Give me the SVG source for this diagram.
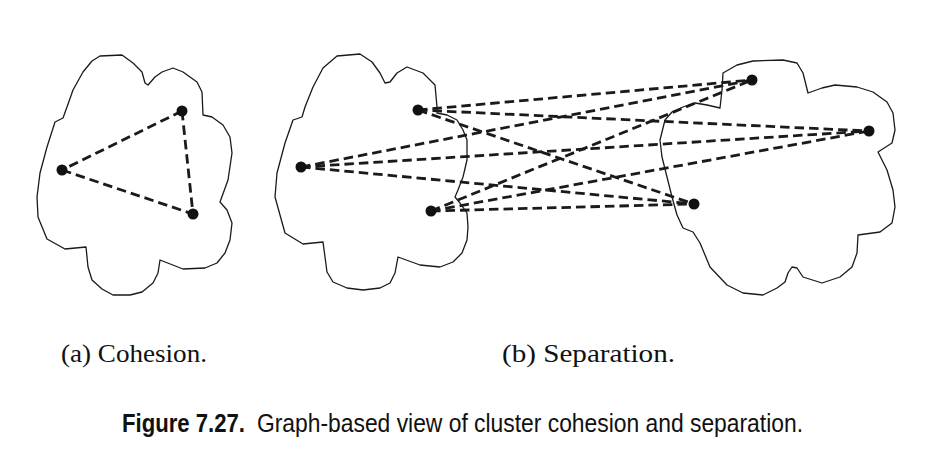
<svg xmlns="http://www.w3.org/2000/svg" width="931" height="468" viewBox="0 0 931 468">
<style>
.blob{fill:none;stroke:#1a1a1a;stroke-width:1.3;stroke-linejoin:round}
.edge{stroke:#1a1a1a;stroke-width:2.8;stroke-dasharray:9.5 5;fill:none}
.pt{fill:#111}
.sub{font-family:"Liberation Serif",serif;font-size:26px;fill:#111}
.cap{font-family:"Liberation Sans",sans-serif;font-size:26px;fill:#111}
</style>
<rect width="931" height="468" fill="#fff"/>
<g id="cluster-a">
<polygon class="blob" points="100,56 122,55 133,63 142,72 145,83 148,85 155,77 162,72 173,68 183,72 197,82 202,92 203,115 212,117 223,125 230,137 232,153 228,180 220,202 227,210 232,223 230,240 225,253 217,263 205,268 183,269 160,260 158,273 153,283 142,292 130,295 113,295 102,289 92,280 88,267 86,247 65,249 47,239 38,217 37,197 40,173 47,147 55,122 63,118 67,107 73,90 83,72 92,61"/>
</g>
<g id="cluster-b-left">
<polygon class="blob" points="337,56 360,54 372,62 380,73 385,83 390,82 397,73 407,67 423,73 435,85 437,107 437,113 447,115 457,120 463,130 467,140 467,160 463,177 458,190 455,197 460,203 467,213 468,227 467,240 462,253 453,262 440,267 420,265 398,257 395,273 390,283 380,288 363,290 347,288 333,282 327,272 325,257 323,242 303,244 285,233 275,197 277,173 285,143 293,120 302,117 305,107 313,87 323,68"/>
</g>
<g id="cluster-b-right">
<polygon class="blob" points="723,73 737,65 753,61 783,60 797,63 803,73 808,93 822,88 835,85 857,87 873,92 887,102 893,113 895,130 892,143 878,152 887,170 893,190 895,207 892,223 880,232 858,235 857,253 852,267 840,277 822,283 803,277 797,268 792,267 788,273 785,282 777,288 763,295 743,293 727,285 710,267 700,243 693,232 683,228 677,215 672,197 667,177 662,157 660,140 665,120 672,112 683,107 695,103 707,105 720,108 722,90"/>
</g>
<g id="connectors">
<line class="edge" x1="182" y1="111" x2="62" y2="170"/>
<line class="edge" x1="62" y1="170" x2="193" y2="214"/>
<line class="edge" x1="182" y1="111" x2="193" y2="214"/>
<line class="edge" x1="418" y1="110" x2="752" y2="80"/>
<line class="edge" x1="418" y1="110" x2="869" y2="131"/>
<line class="edge" x1="418" y1="110" x2="694" y2="204"/>
<line class="edge" x1="301" y1="167" x2="752" y2="80"/>
<line class="edge" x1="301" y1="167" x2="869" y2="131"/>
<line class="edge" x1="301" y1="167" x2="694" y2="204"/>
<line class="edge" x1="431" y1="211" x2="752" y2="80"/>
<line class="edge" x1="431" y1="211" x2="869" y2="131"/>
<line class="edge" x1="431" y1="211" x2="694" y2="204"/>
</g>
<g id="points">
<circle class="pt" cx="182" cy="111" r="5.5"/>
<circle class="pt" cx="62" cy="170" r="5.5"/>
<circle class="pt" cx="193" cy="214" r="5.5"/>
<circle class="pt" cx="418" cy="110" r="5.5"/>
<circle class="pt" cx="301" cy="167" r="5.5"/>
<circle class="pt" cx="431" cy="211" r="5.5"/>
<circle class="pt" cx="752" cy="80" r="5.5"/>
<circle class="pt" cx="869" cy="131" r="5.5"/>
<circle class="pt" cx="694" cy="204" r="5.5"/>
</g>
<text class="sub" x="61" y="362" textLength="146" lengthAdjust="spacingAndGlyphs">(a) Cohesion.</text>
<text class="sub" x="502" y="362" textLength="173" lengthAdjust="spacingAndGlyphs">(b) Separation.</text>
<text class="cap" x="122" y="432"><tspan font-weight="bold" textLength="123" lengthAdjust="spacingAndGlyphs">Figure 7.27.</tspan><tspan x="257" textLength="546" lengthAdjust="spacingAndGlyphs">Graph-based view of cluster cohesion and separation.</tspan></text>
</svg>
